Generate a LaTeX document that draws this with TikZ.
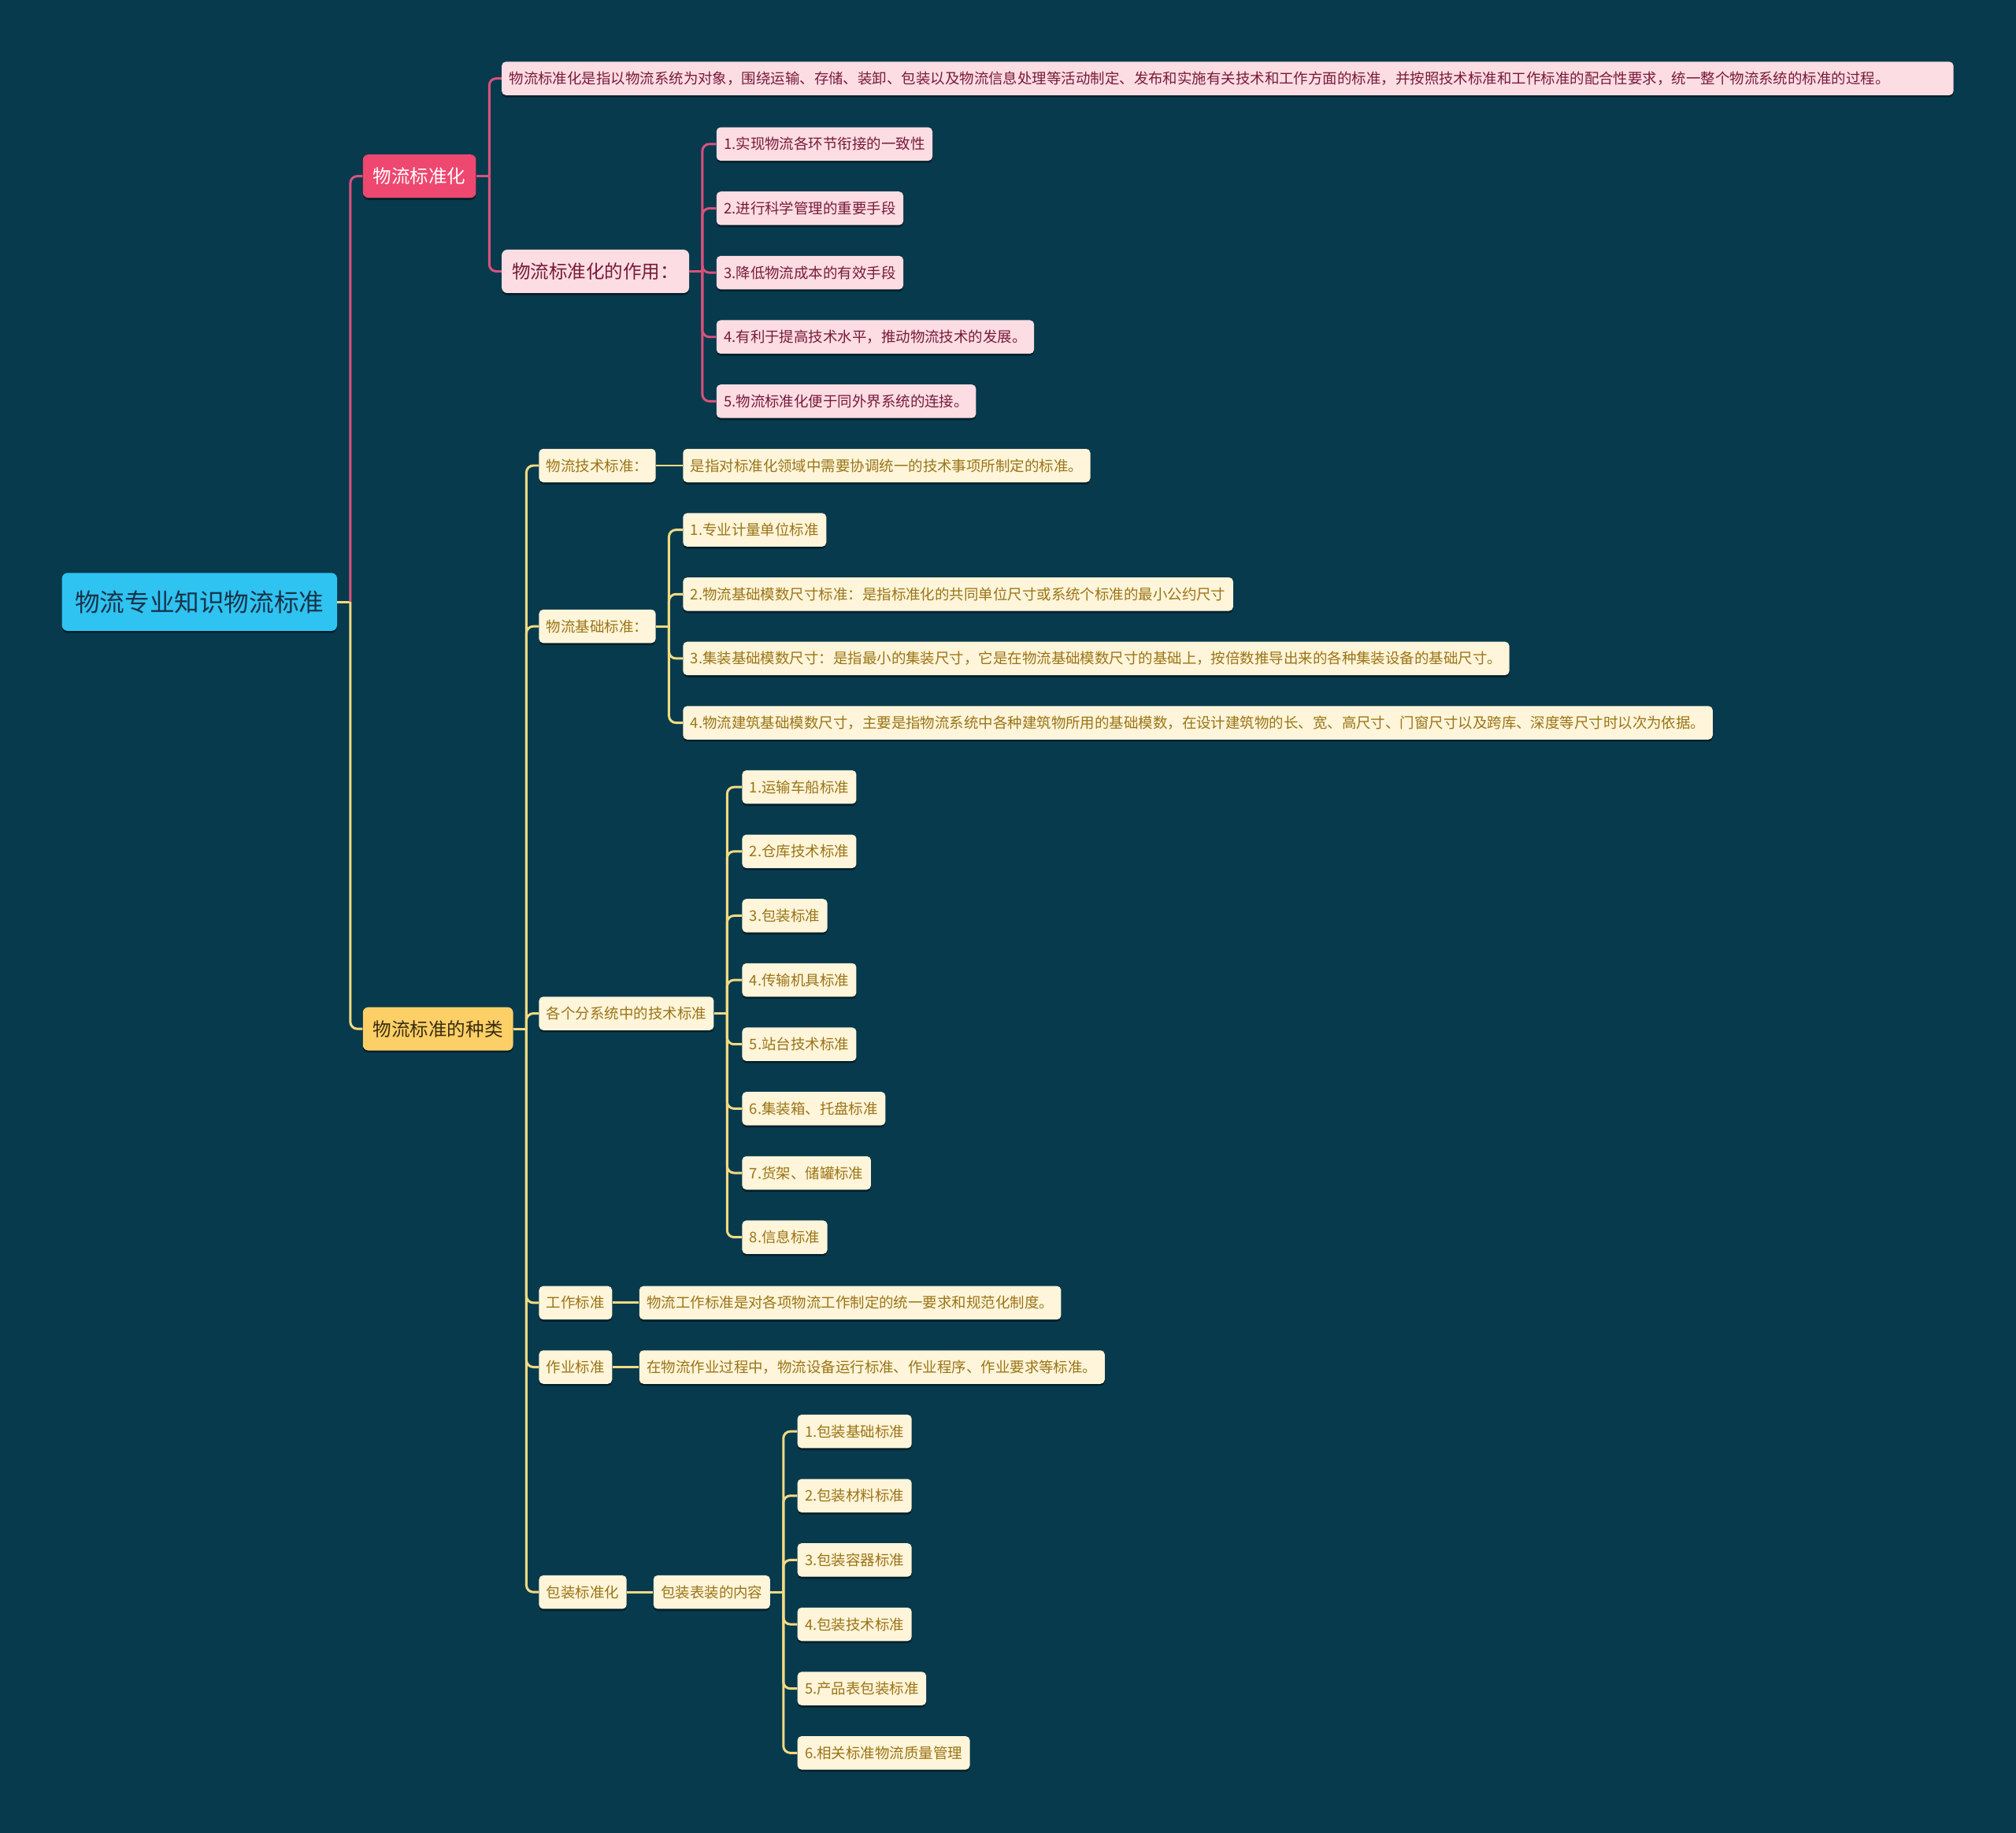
\documentclass[tikz,border=0pt]{standalone}
\usepackage{fontspec}
\setmainfont{Noto Sans CJK SC}
\usepackage{xcolor}
\usepackage{tikz}
\usetikzlibrary{positioning,shadows}
\definecolor{bgteal}{HTML}{073A4D}
\definecolor{rootblue}{HTML}{2EC3F1}
\definecolor{roottext}{HTML}{17334A}
\definecolor{mainpink}{HTML}{EE4770}
\definecolor{mainyellow}{HTML}{FCD066}
\definecolor{yellowtext}{HTML}{3B2C0F}
\definecolor{pinkfill}{HTML}{FCDDE3}
\definecolor{pinktext}{HTML}{781A3B}
\definecolor{goldfill}{HTML}{FFF5DA}
\definecolor{goldtext}{HTML}{9A7416}
\definecolor{lnpink}{HTML}{D9527B}
\definecolor{lngold}{HTML}{F3DA82}

\begin{document}
\begin{tikzpicture}[
  card/.style={anchor=west, rounded corners=4pt, drop shadow={shadow xshift=0pt, shadow yshift=-1.5pt, opacity=0.45, fill=black}},
  topic/.style={card, inner xsep=0.33cm, minimum height=1.47cm, font=\fontsize{18}{20}\selectfont, fill=rootblue, text=roottext},
  branch/.style={card, inner xsep=0.26cm, minimum height=1.1cm, font=\fontsize{13.4}{15}\selectfont},
  leaf/.style={card, rounded corners=3pt, inner xsep=0.19cm, minimum height=0.85cm, font=\fontsize{10.5}{12}\selectfont},
  pinkleaf/.style={leaf, fill=pinkfill, text=pinktext},
  goldleaf/.style={leaf, fill=goldfill, text=goldtext},
  plink/.style={draw=lnpink, line width=1.7pt, rounded corners=5pt},
  glink/.style={draw=lngold, line width=1.7pt, rounded corners=5pt}
]
\fill[bgteal] (0,0) rectangle (51.2,-46.54);

% centre topic
\node[topic] (root) at (1.567,-15.282) {物流专业知识物流标准};

% pink branch
\node[branch, fill=mainpink, text=white] (std) at (9.208,-4.473) {物流标准化};
\node[pinkleaf, text width=36.49cm, align=left] (stddef) at (12.735,-1.992) {物流标准化是指以物流系统为对象，围绕运输、存储、装卸、包装以及物流信息处理等活动制定、发布和实施有关技术和工作方面的标准，并按照技术标准和工作标准的配合性要求，统一整个物流系统的标准的过程。};
\node[branch, fill=pinkfill, text=pinktext] (role) at (12.735,-6.890) {物流标准化的作用：};
\node[pinkleaf] (role1) at (18.188,-3.657) {1.实现物流各环节衔接的一致性};
\node[pinkleaf] (role2) at (18.188,-5.290) {2.进行科学管理的重要手段};
\node[pinkleaf] (role3) at (18.188,-6.922) {3.降低物流成本的有效手段};
\node[pinkleaf] (role4) at (18.188,-8.555) {4.有利于提高技术水平，推动物流技术的发展。};
\node[pinkleaf] (role5) at (18.188,-10.188) {5.物流标准化便于同外界系统的连接。};

% yellow branch
\node[branch, fill=mainyellow, text=yellowtext] (kinds) at (9.208,-26.122) {物流标准的种类};
\node[goldleaf] (tech) at (13.682,-11.820) {物流技术标准：};
\node[goldleaf] (techdef) at (17.339,-11.820) {是指对标准化领域中需要协调统一的技术事项所制定的标准。};
\node[goldleaf] (basic) at (13.682,-15.902) {物流基础标准：};
\node[goldleaf] (basic1) at (17.339,-13.453) {1.专业计量单位标准};
\node[goldleaf] (basic2) at (17.339,-15.086) {2.物流基础模数尺寸标准：是指标准化的共同单位尺寸或系统个标准的最小公约尺寸};
\node[goldleaf] (basic3) at (17.339,-16.718) {3.集装基础模数尺寸：是指最小的集装尺寸，它是在物流基础模数尺寸的基础上，按倍数推导出来的各种集装设备的基础尺寸。};
\node[goldleaf] (basic4) at (17.339,-18.351) {4.物流建筑基础模数尺寸，主要是指物流系统中各种建筑物所用的基础模数，在设计建筑物的长、宽、高尺寸、门窗尺寸以及跨库、深度等尺寸时以次为依据。};
\node[goldleaf] (sub) at (13.682,-25.731) {各个分系统中的技术标准};
\node[goldleaf] (sub1) at (18.841,-19.984) {1.运输车船标准};
\node[goldleaf] (sub2) at (18.841,-21.616) {2.仓库技术标准};
\node[goldleaf] (sub3) at (18.841,-23.249) {3.包装标准};
\node[goldleaf] (sub4) at (18.841,-24.882) {4.传输机具标准};
\node[goldleaf] (sub5) at (18.841,-26.514) {5.站台技术标准};
\node[goldleaf] (sub6) at (18.841,-28.147) {6.集装箱、托盘标准};
\node[goldleaf] (sub7) at (18.841,-29.780) {7.货架、储罐标准};
\node[goldleaf] (sub8) at (18.841,-31.412) {8.信息标准};
\node[goldleaf] (work) at (13.682,-33.078) {工作标准};
\node[goldleaf] (workdef) at (16.229,-33.078) {物流工作标准是对各项物流工作制定的统一要求和规范化制度。};
\node[goldleaf] (oper) at (13.682,-34.710) {作业标准};
\node[goldleaf] (operdef) at (16.229,-34.710) {在物流作业过程中，物流设备运行标准、作业程序、作业要求等标准。};
\node[goldleaf] (pack) at (13.682,-40.424) {包装标准化};
\node[goldleaf] (packset) at (16.588,-40.424) {包装表装的内容};
\node[goldleaf] (pack1) at (20.245,-36.343) {1.包装基础标准};
\node[goldleaf] (pack2) at (20.245,-37.975) {2.包装材料标准};
\node[goldleaf] (pack3) at (20.245,-39.608) {3.包装容器标准};
\node[goldleaf] (pack4) at (20.245,-41.241) {4.包装技术标准};
\node[goldleaf] (pack5) at (20.245,-42.873) {5.产品表包装标准};
\node[goldleaf] (pack6) at (20.245,-44.506) {6.相关标准物流质量管理};

% connectors
\draw[glink] (root.east) -- ++(0.33,0) coordinate (rootj);
\draw[plink] (rootj) |- (std.west);
\draw[glink] (rootj) |- (kinds.west);

\draw[plink] (std.east) -- ++(0.33,0) coordinate (stdj);
\draw[plink] (stdj) |- (stddef.west);
\draw[plink] (stdj) |- (role.west);
\draw[plink] (role.east) -- ++(0.33,0) coordinate (rolej);
\draw[plink] (rolej) |- (role1.west);
\draw[plink] (rolej) |- (role2.west);
\draw[plink] (rolej) |- (role3.west);
\draw[plink] (rolej) |- (role4.west);
\draw[plink] (rolej) |- (role5.west);

\draw[glink] (kinds.east) -- ++(0.33,0) coordinate (kindsj);
\draw[glink] (kindsj) |- (tech.west);
\draw[glink] (kindsj) |- (basic.west);
\draw[glink] (kindsj) |- (sub.west);
\draw[glink] (kindsj) |- (work.west);
\draw[glink] (kindsj) |- (oper.west);
\draw[glink] (kindsj) |- (pack.west);
\draw[glink] (tech.east) -- (techdef.west);
\draw[glink] (basic.east) -- ++(0.33,0) coordinate (basicj);
\draw[glink] (basicj) |- (basic1.west);
\draw[glink] (basicj) |- (basic2.west);
\draw[glink] (basicj) |- (basic3.west);
\draw[glink] (basicj) |- (basic4.west);
\draw[glink] (sub.east) -- ++(0.33,0) coordinate (subj);
\draw[glink] (subj) |- (sub1.west);
\draw[glink] (subj) |- (sub2.west);
\draw[glink] (subj) |- (sub3.west);
\draw[glink] (subj) |- (sub4.west);
\draw[glink] (subj) |- (sub5.west);
\draw[glink] (subj) |- (sub6.west);
\draw[glink] (subj) |- (sub7.west);
\draw[glink] (subj) |- (sub8.west);
\draw[glink] (work.east) -- (workdef.west);
\draw[glink] (oper.east) -- (operdef.west);
\draw[glink] (pack.east) -- (packset.west);
\draw[glink] (packset.east) -- ++(0.33,0) coordinate (packj);
\draw[glink] (packj) |- (pack1.west);
\draw[glink] (packj) |- (pack2.west);
\draw[glink] (packj) |- (pack3.west);
\draw[glink] (packj) |- (pack4.west);
\draw[glink] (packj) |- (pack5.west);
\draw[glink] (packj) |- (pack6.west);
\end{tikzpicture}
\end{document}
